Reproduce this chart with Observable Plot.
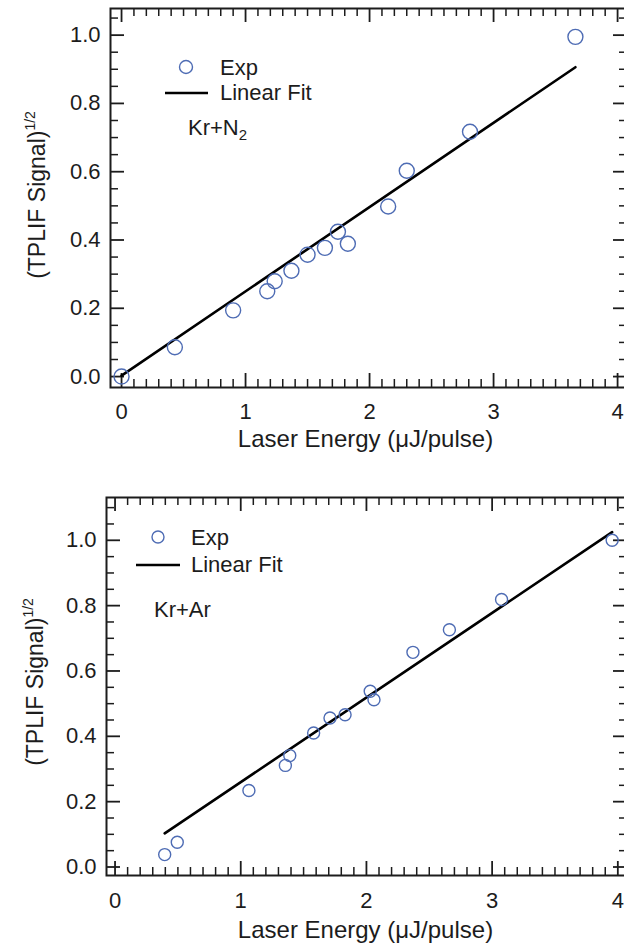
<!DOCTYPE html>
<html><head><meta charset="utf-8">
<script src="https://cdn.jsdelivr.net/npm/d3@7"></script>
<script src="https://cdn.jsdelivr.net/npm/@observablehq/plot@0.6"></script>
<style>
html,body{margin:0;padding:0;background:#fff;overflow:hidden;}
#wrap{width:624px;height:947px;overflow:hidden;position:relative;background:#fff;}
#wrap svg{display:block;}
</style></head><body><div id="wrap"></div>
<script>
// ---- Panel 1: Kr+N2 ----
const n2Energy = [0, 0.43, 0.90, 1.175, 1.235, 1.37, 1.50, 1.64, 1.745, 1.825, 2.15, 2.30, 2.81, 3.66];
const n2Signal = [0, 0.086, 0.194, 0.25, 0.279, 0.31, 0.357, 0.377, 0.424, 0.389, 0.498, 0.603, 0.717, 0.995];
const n2FitEnergy = [0, 3.66];
const n2FitSignal = [0.003, 0.906];
// ---- Panel 2: Kr+Ar ----
const arEnergy = [0.395, 0.495, 1.065, 1.355, 1.39, 1.58, 1.71, 1.83, 2.03, 2.06, 2.37, 2.66, 3.075, 3.955];
const arSignal = [0.038, 0.076, 0.234, 0.311, 0.341, 0.41, 0.456, 0.466, 0.538, 0.512, 0.657, 0.726, 0.819, 1.0];
const arFitEnergy = [0.395, 3.955];
const arFitSignal = [0.103, 1.025];
// ---- ticks & labels ----
const xMajor = [0, 1, 2, 3, 4];
const yMajor = [0, 0.2, 0.4, 0.6, 0.8, 1.0];
const xMinorStep = 0.1;
const yMinorStep = 0.05;
const xLabel = "Laser Energy (\u03BCJ/pulse)";
const yLabel = "(TPLIF Signal)";
const yLabelSup = "1/2";
const legendExp = "Exp";
const legendFit = "Linear Fit";

const BLUE = "#4e6cb4";
const INK = "#1c1c1c";
const FONT = '"Liberation Sans", Arial, Helvetica, sans-serif';
const MAJ = 14, MIN = 8;

function minorTicks(domain, step, majors) {
  const out = [];
  const n0 = Math.ceil(domain[0] / step - 1e-9), n1 = Math.floor(domain[1] / step + 1e-9);
  for (let i = n0; i <= n1; i++) {
    const v = +(i * step).toFixed(4);
    if (!majors.some(m => Math.abs(m - v) < 1e-6)) out.push(v);
  }
  return out;
}

function panel(o) {
  const W = 624, MR = -3;
  const pw = W - o.marginLeft - MR;               // frame width in px
  const ph = o.height - o.marginTop - o.marginBottom; // frame height in px
  const pts = o.energy.map((e, i) => ({e, s: o.signal[i]}));
  const fit = o.fitE.map((e, i) => ({e, s: o.fitS[i]}));
  const xMinor = minorTicks(o.xDomain, xMinorStep, xMajor);
  const yMinor = minorTicks(o.yDomain, yMinorStep, yMajor);
  const yIn = v => v.filter(d => d >= o.yDomain[0] && d <= o.yDomain[1]);
  const xIn = v => v.filter(d => d >= o.xDomain[0] && d <= o.xDomain[1]);
  const st = {stroke: INK};
  const svg = Plot.plot({
    width: W, height: o.height,
    marginTop: o.marginTop, marginBottom: o.marginBottom, marginLeft: o.marginLeft, marginRight: MR,
    x: {domain: o.xDomain, axis: null},
    y: {domain: o.yDomain, axis: null},
    style: {fontFamily: FONT, fontSize: "22px", color: INK, background: "white"},
    marks: [
      // inward ticks on all four sides
      Plot.ruleY(yIn(yMajor), {...st, strokeWidth: 1.8, insetRight: pw - MAJ}),
      Plot.ruleY(yIn(yMinor), {...st, strokeWidth: 1.5, insetRight: pw - MIN}),
      Plot.ruleY(yIn(yMajor), {...st, strokeWidth: 1.8, insetLeft: pw - MAJ}),
      Plot.ruleY(yIn(yMinor), {...st, strokeWidth: 1.5, insetLeft: pw - MIN}),
      Plot.ruleX(xIn(xMajor), {...st, strokeWidth: 1.8, insetTop: ph - MAJ}),
      Plot.ruleX(xIn(xMinor), {...st, strokeWidth: 1.5, insetTop: ph - MIN}),
      Plot.ruleX(xIn(xMajor), {...st, strokeWidth: 1.8, insetBottom: ph - MAJ}),
      Plot.ruleX(xIn(xMinor), {...st, strokeWidth: 1.5, insetBottom: ph - MIN}),
      Plot.line(fit, {x: "e", y: "s", stroke: "#000", strokeWidth: 2.6}),
      Plot.dot(pts, {x: "e", y: "s", r: o.r, stroke: BLUE, strokeWidth: 1.4, fill: "none"}),
      Plot.axisY(yMajor, {anchor: "left", tickSize: 0, tickPadding: 10, tickFormat: d3.format(".1f"), label: null, fill: INK, fontSize: 22}),
      Plot.axisX(xMajor, {anchor: "bottom", tickSize: 0, tickPadding: o.xPad, tickFormat: d3.format("d"), label: null, fill: INK, fontSize: 22}),
      Plot.frame({stroke: INK, strokeWidth: 2})
    ]
  });
  const s = d3.select(svg);
  // y title
  const t = s.append("text")
    .attr("transform", `translate(${o.yTitleX},${o.yTitleY}) rotate(-90)`)
    .attr("text-anchor", "middle").attr("fill", INK)
    .style("font-family", FONT).style("font-size", "23px");
  t.append("tspan").text(yLabel);
  t.append("tspan").attr("dy", -10).style("font-size", "14px").text(yLabelSup);
  // x title
  s.append("text").attr("x", 365.5).attr("y", o.xTitleY).attr("text-anchor", "middle")
    .attr("fill", INK).style("font-family", FONT).style("font-size", "24px").text(xLabel);
  // legend
  const L = o.legend;
  s.append("circle").attr("cx", L.cx).attr("cy", L.cy).attr("r", L.r)
    .attr("fill", "none").attr("stroke", BLUE).attr("stroke-width", 1.4);
  s.append("text").attr("x", L.tx).attr("y", L.cy + 8).attr("text-anchor", "start").attr("fill", INK)
    .style("font-family", FONT).style("font-size", "22px").text(legendExp);
  s.append("line").attr("x1", L.lx1).attr("x2", L.lx2).attr("y1", L.ly).attr("y2", L.ly)
    .attr("stroke", "#000").attr("stroke-width", 2.6);
  s.append("text").attr("x", L.tx).attr("y", L.ly + 7).attr("text-anchor", "start").attr("fill", INK)
    .style("font-family", FONT).style("font-size", "22px").text(legendFit);
  const g = s.append("text").attr("x", L.gx).attr("y", L.gy).attr("text-anchor", "start").attr("fill", INK)
    .style("font-family", FONT).style("font-size", "22px");
  g.append("tspan").text(o.gas[0]);
  if (o.gas[1]) g.append("tspan").attr("dy", 5).style("font-size", "15px").text(o.gas[1]);
  return svg;
}

const wrap = document.getElementById("wrap");
wrap.appendChild(panel({
  energy: n2Energy, signal: n2Signal, fitE: n2FitEnergy, fitS: n2FitSignal,
  xDomain: [-0.089, 4.08], yDomain: [-0.032, 1.078],
  height: 470, marginTop: 8, marginBottom: 83, marginLeft: 110, r: 7.5, xPad: 16,
  yTitleX: 45, yTitleY: 195, xTitleY: 447,
  legend: {cx: 186, cy: 67, r: 6.5, tx: 220, lx1: 165, lx2: 208, ly: 93, gx: 188, gy: 135},
  gas: ["Kr+N", "2"]
}));
wrap.appendChild(panel({
  energy: arEnergy, signal: arSignal, fitE: arFitEnergy, fitS: arFitSignal,
  xDomain: [-0.068, 4.077], yDomain: [-0.026, 1.131],
  height: 477, marginTop: 27, marginBottom: 72, marginLeft: 106, r: 6, xPad: 17,
  yTitleX: 43, yTitleY: 212, xTitleY: 468,
  legend: {cx: 158, cy: 67, r: 6, tx: 191, lx1: 136, lx2: 180, ly: 95, gx: 154, gy: 147},
  gas: ["Kr+Ar", ""]
}));
</script></body></html>
